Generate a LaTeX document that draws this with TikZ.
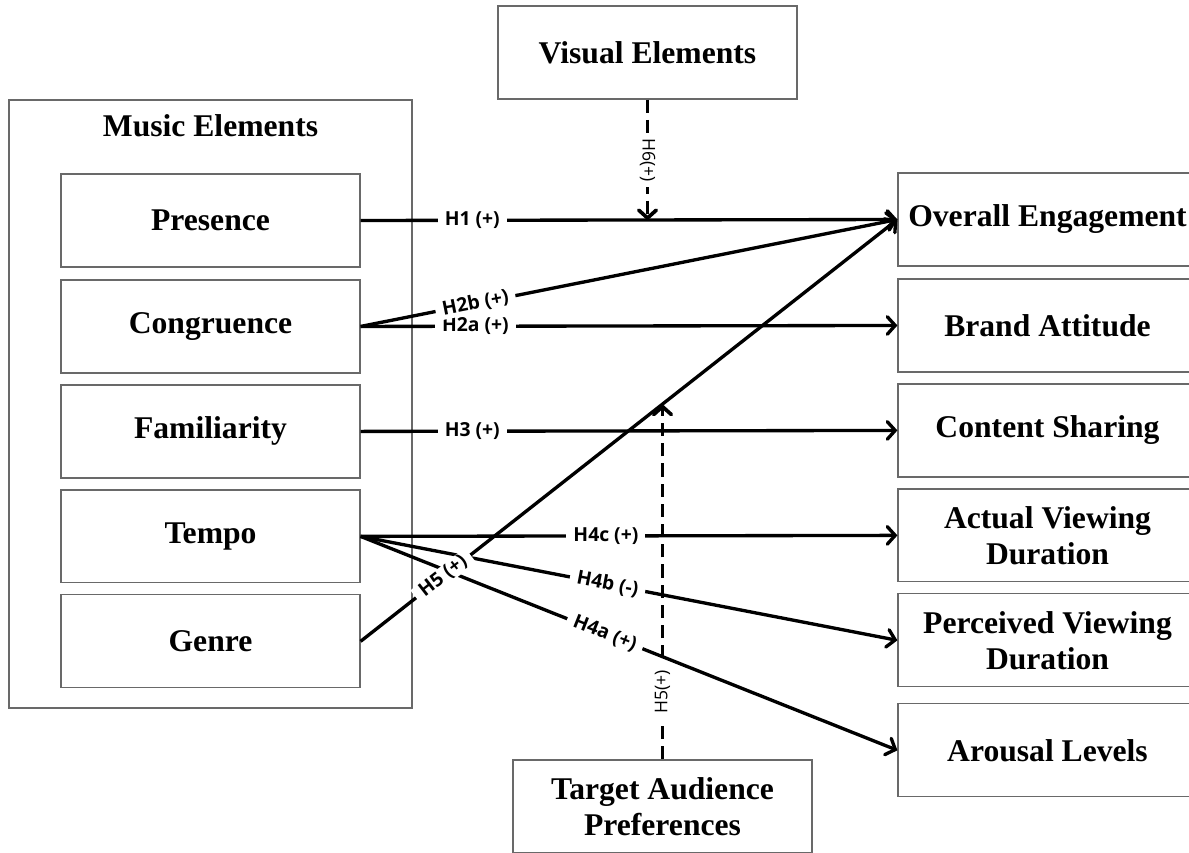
\documentclass[tikz,border=0pt]{standalone}
\usepackage{fontspec}
\setmainfont{Liberation Serif}
\newfontfamily\hypfont{Open Sans}
\usetikzlibrary{arrows.meta,positioning}
\definecolor{boxgray}{RGB}{105,105,105}
\tikzset{
  elembox/.style={draw=boxgray,line width=0.7pt,fill=white,minimum width=5.98cm,minimum height=1.86cm,align=center,inner xsep=2pt,font=\fontsize{18}{20.5}\selectfont\bfseries},
  hyp/.style={fill=white,inner xsep=4pt,inner ysep=0.5pt,font=\hypfont\fontsize{11}{12}\selectfont\bfseries},
  modlabel/.style={fill=white,inner xsep=3pt,inner ysep=0.5pt,font=\hypfont\fontsize{10}{11}\selectfont},
}

\begin{document}
\begin{tikzpicture}[x=0.02cm,y=-0.02cm,
    arrow/.style={-{Straight Barb[length=4.5pt,width=10pt,line cap=round]},line width=1.9pt},
    modarrow/.style={arrow,line width=2.1pt,dash pattern=on 7.5pt off 4pt},
  ]
  \useasboundingbox[fill=white] (0,0) rectangle (1189,852);
  \clip (0,0) rectangle (1189,852);
  % Music elements
  \draw[boxgray,line width=0.7pt] (9,100) rectangle (412,708);
  \node[font=\fontsize{18}{20.5}\selectfont\bfseries] (music) at (210.5,126) {Music Elements};
  \node[elembox] (pres) at (210.5,220.5) {Presence};
  \node[elembox,below=0.235cm of pres] (cong) {Congruence};
  \node[elembox,below=0.215cm of cong] (fam) {Familiarity};
  \node[elembox,below=0.215cm of fam] (tempo) {Tempo};
  \node[elembox,below=0.215cm of tempo] (genre) {Genre};
  % Outcomes
  \node[elembox] (eng) at (1047.5,219.5) {Overall Engagement};
  \node[elembox,below=0.235cm of eng] (brand) {Brand Attitude};
  \node[elembox,below=0.215cm of brand] (share) {Content Sharing};
  \node[elembox,below=0.215cm of share] (actual) {Actual Viewing\\Duration};
  \node[elembox,below=0.215cm of actual] (perc) {Perceived Viewing\\Duration};
  \node[elembox,below=0.315cm of perc] (arousal) {Arousal Levels};
  % Moderators
  \node[elembox] (visual) at (647.5,52.5) {Visual Elements};
  \node[elembox] (target) at (662.5,806.5) {Target Audience\\Preferences};
  % Paths
  \draw[arrow] (pres.east) -- node[hyp,pos=0.208]{H1 (+)} (eng.west);
  \draw[arrow] (cong.east) -- node[hyp,pos=0.214]{H2a (+)} (brand.west);
  \draw[arrow] (cong.east) -- node[hyp,sloped,pos=0.214]{H2b (+)} (eng.west);
  \draw[arrow] (fam.east) -- node[hyp,pos=0.208]{H3 (+)} (share.west);
  \draw[arrow] (tempo.east) -- node[hyp,pos=0.457]{H4c (+)} (actual.west);
  \draw[arrow] (tempo.east) -- node[hyp,sloped,pos=0.46]{H4b (-)} (perc.west);
  \draw[arrow] (tempo.east) -- node[hyp,sloped,pos=0.455]{H4a (+)} (arousal.west);
  \draw[arrow] (genre.east) -- node[hyp,sloped,pos=0.154]{H5 (+)} coordinate[pos=0.5623] (h5pt) (eng.west);
  % Moderating paths
  \draw[modarrow] (visual.south) -- node[modlabel,rotate=-90,pos=0.5]{H6(+)} (visual.south |- pres.east);
  \draw[modarrow] (target.north) -- node[modlabel,rotate=90,pos=0.19]{H5(+)} (target.north |- h5pt);
\end{tikzpicture}
\end{document}
